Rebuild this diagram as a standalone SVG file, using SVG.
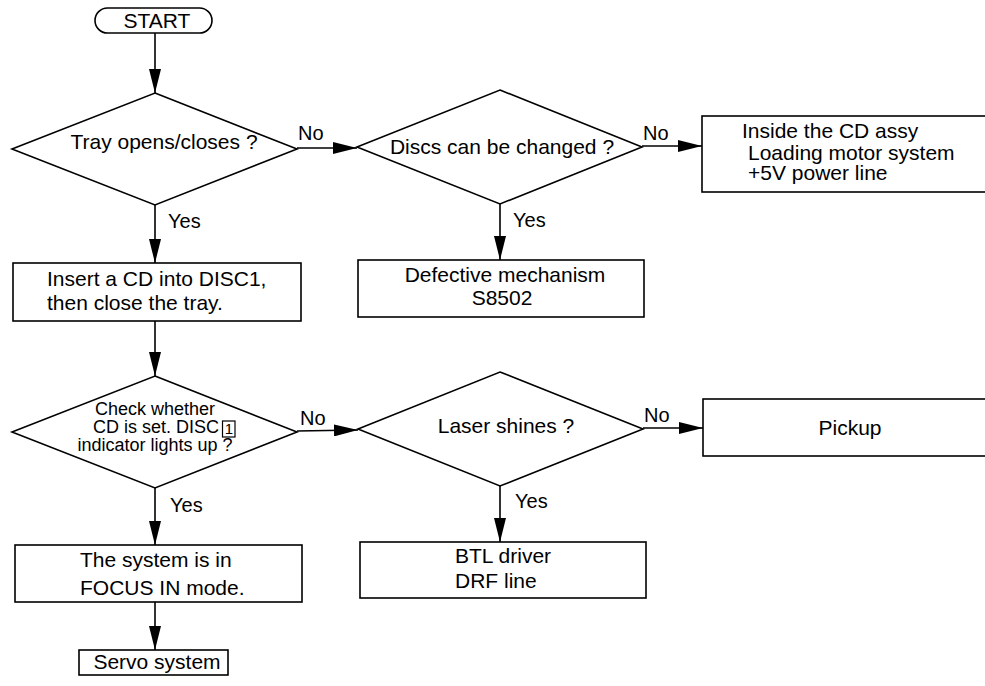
<svg xmlns="http://www.w3.org/2000/svg" width="985" height="686" viewBox="0 0 985 686">
  <defs>
    <marker id="arrow" markerUnits="userSpaceOnUse" markerWidth="24" markerHeight="12" refX="24" refY="6" orient="auto">
      <path d="M0,0 L24,6 L0,12 Z" fill="#000"/>
    </marker>
  </defs>
  <style>
    .shape { fill: #fff; stroke: #000; stroke-width: 1.6; }
    .edge { fill: none; stroke: #000; stroke-width: 1.6; marker-end: url(#arrow); }
    text { font-family: "Liberation Sans", Arial, sans-serif; font-size: 21px; fill: #000; }
    .c { text-anchor: middle; }
    .small { font-size: 18px; }
    .lbl { font-size: 20px; }
  </style>
  <rect width="985" height="686" fill="#fff"/>

  <!-- connectors -->
  <g id="connectors">
    <line class="edge" x1="155" y1="33" x2="155" y2="93"/>
    <line class="edge" x1="297" y1="148" x2="357" y2="148"/>
    <line class="edge" x1="642" y1="146" x2="702" y2="146"/>
    <line class="edge" x1="155" y1="205" x2="155" y2="263"/>
    <line class="edge" x1="500" y1="204" x2="500" y2="260"/>
    <line class="edge" x1="155" y1="321" x2="155" y2="376"/>
    <line class="edge" x1="297" y1="431" x2="358" y2="430"/>
    <line class="edge" x1="643" y1="428" x2="703" y2="428"/>
    <line class="edge" x1="155" y1="488" x2="155" y2="545"/>
    <line class="edge" x1="500" y1="486" x2="500" y2="542"/>
    <line class="edge" x1="155" y1="602" x2="155" y2="650"/>
    <text class="lbl" x="298" y="140">No</text>
    <text class="lbl" x="643" y="140">No</text>
    <text class="lbl" x="168" y="228">Yes</text>
    <text class="lbl" x="513" y="227">Yes</text>
    <text class="lbl" x="300" y="425">No</text>
    <text class="lbl" x="644" y="422">No</text>
    <text class="lbl" x="170" y="512">Yes</text>
    <text class="lbl" x="515" y="508">Yes</text>
  </g>

  <g id="start">
    <rect class="shape" x="95" y="8" width="117" height="25" rx="12.5" ry="12.5"/>
    <text class="c" x="157" y="28">START</text>
  </g>

  <g id="tray-check">
    <polygon class="shape" points="155,93 297,149 155,205 12,149"/>
    <text class="c" x="164" y="149">Tray opens/closes ?</text>
  </g>

  <g id="disc-change-check">
    <polygon class="shape" points="500,90 642,147 500,204 357,147"/>
    <text class="c" x="502" y="154">Discs can be changed ?</text>
  </g>

  <g id="cd-assy">
    <rect class="shape" x="702" y="116" width="290" height="76"/>
    <text x="742" y="138">Inside the CD assy</text>
    <text x="748" y="160">Loading motor system</text>
    <text x="748" y="180">+5V power line</text>
  </g>

  <g id="insert-cd">
    <rect class="shape" x="13" y="263" width="288" height="58"/>
    <text x="47" y="286">Insert a CD into DISC1,</text>
    <text x="47" y="310">then close the tray.</text>
  </g>

  <g id="defective-mechanism">
    <rect class="shape" x="358" y="260" width="286" height="57"/>
    <text class="c" x="505" y="282">Defective mechanism</text>
    <text class="c" x="502" y="305">S8502</text>
  </g>

  <g id="disc-set-check">
    <polygon class="shape" points="155,376 297,432 155,488 12,432"/>
    <text class="c small" x="155" y="415">Check whether</text>
    <text class="small" x="219" y="433" text-anchor="end">CD is set. DISC</text>
    <rect x="222.5" y="421" width="12.5" height="16" fill="none" stroke="#000" stroke-width="1.2"/>
    <text class="c" x="229" y="434" style="font-size:15px">1</text>
    <text class="c small" x="155" y="451">indicator lights up ?</text>
  </g>

  <g id="laser-check">
    <polygon class="shape" points="500,372 643,429 500,486 358,429"/>
    <text class="c" x="506" y="433">Laser shines ?</text>
  </g>

  <g id="pickup">
    <rect class="shape" x="703" y="399" width="290" height="57"/>
    <text class="c" x="850" y="435">Pickup</text>
  </g>

  <g id="focus-in">
    <rect class="shape" x="15" y="545" width="287" height="57"/>
    <text x="80" y="567">The system is in</text>
    <text x="80" y="595">FOCUS IN mode.</text>
  </g>

  <g id="btl-driver">
    <rect class="shape" x="360" y="542" width="286" height="56"/>
    <text x="455" y="563">BTL driver</text>
    <text x="455" y="588">DRF line</text>
  </g>

  <g id="servo">
    <rect class="shape" x="79" y="650" width="149" height="25"/>
    <text class="c" x="157" y="669">Servo system</text>
  </g>
</svg>
